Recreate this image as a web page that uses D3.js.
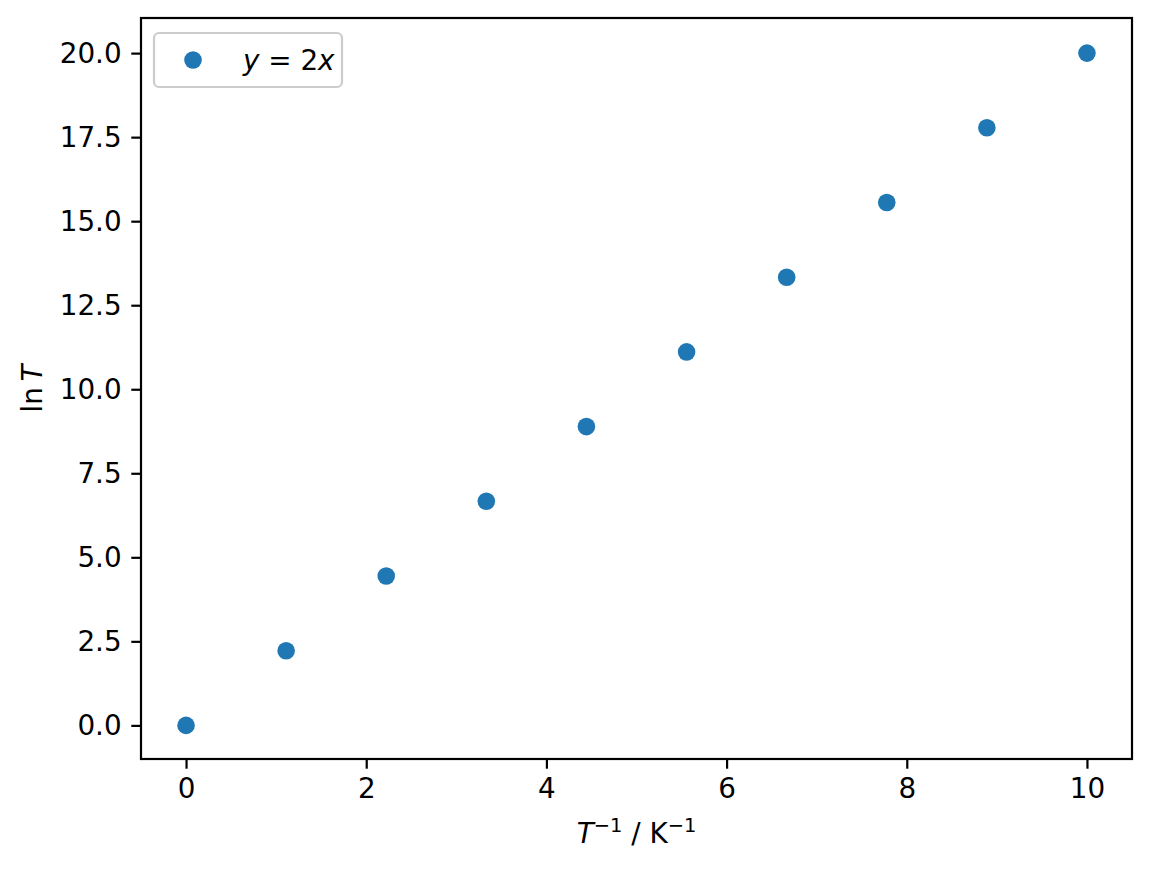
<!DOCTYPE html>
<html>
<head>
<meta charset="utf-8">
<script src="https://cdn.jsdelivr.net/npm/d3@7"></script>
<style>
  body { margin: 0; background: #fff; }
  text { font-family: "DejaVu Sans", sans-serif; }
</style>
</head>
<body>
<div id="chart"></div>
<script>
// data
var xValues = [0, 1.111, 2.222, 3.333, 4.444, 5.556, 6.667, 7.778, 8.889, 10];
var yValues = [0, 2.222, 4.444, 6.667, 8.889, 11.111, 13.333, 15.556, 17.778, 20];
var xTicks = [0, 2, 4, 6, 8, 10];
var yTicks = [0, 2.5, 5, 7.5, 10, 12.5, 15, 17.5, 20];

var W = 1152, H = 869;
var axL = 141, axR = 1132, axT = 18, axB = 759;
var fs = 27.8, tick = 9.7, lw = 2.2;

var svg = d3.select('#chart').append('svg')
  .attr('width', W).attr('height', H);

var x = d3.scaleLinear().domain([-0.5, 10.5]).range([axL, axR]);
var y = d3.scaleLinear().domain([-1, 21]).range([axB, axT + 1.5]);

var xAxis = svg.append('g')
  .attr('transform', 'translate(0,' + axB + ')')
  .call(d3.axisBottom(x).tickValues(xTicks).tickFormat(d3.format('d'))
    .tickSize(tick).tickPadding(tick));
var yAxis = svg.append('g')
  .attr('transform', 'translate(' + axL + ',0)')
  .call(d3.axisLeft(y).tickValues(yTicks).tickFormat(d3.format('.1f'))
    .tickSize(tick).tickPadding(tick));

[xAxis, yAxis].forEach(function(a){
  a.select('.domain').remove();
  a.selectAll('line').attr('stroke', '#000').attr('stroke-width', lw);
  a.selectAll('text').attr('font-size', fs).attr('fill', '#000')
    .attr('font-family', 'DejaVu Sans');
});

// points
svg.append('g').selectAll('circle')
  .data(xValues)
  .enter().append('circle')
  .attr('cx', function(d){ return x(d); })
  .attr('cy', function(d, i){ return y(yValues[i]); })
  .attr('r', 8.8)
  .attr('fill', '#1f77b4');

// frame
svg.append('rect')
  .attr('x', axL).attr('y', axT)
  .attr('width', axR - axL).attr('height', axB - axT)
  .attr('fill', 'none').attr('stroke', '#000').attr('stroke-width', lw);

// x label
var xl = svg.append('text')
  .attr('x', (axL + axR) / 2).attr('y', 843)
  .attr('text-anchor', 'middle').attr('font-size', fs);
xl.append('tspan').attr('font-style', 'italic').text('T');
xl.append('tspan').attr('font-size', fs * 0.7).attr('dy', -11).text('\u22121');
xl.append('tspan').attr('dy', 11).text(' / K');
xl.append('tspan').attr('font-size', fs * 0.7).attr('dy', -11).text('\u22121');

// y label
var yl = svg.append('text')
  .attr('transform', 'translate(42,' + (axT + axB) / 2 + ') rotate(-90)')
  .attr('text-anchor', 'middle').attr('font-size', fs);
yl.append('tspan').text('ln\u2009');
yl.append('tspan').attr('font-style', 'italic').text('T');

// legend
var lg = svg.append('g');
lg.append('rect')
  .attr('x', 154).attr('y', 33).attr('width', 188).attr('height', 54)
  .attr('rx', 5).attr('fill', '#fff').attr('fill-opacity', 0.8)
  .attr('stroke', '#cccccc').attr('stroke-width', 2.2);
lg.append('circle').attr('cx', 193).attr('cy', 60).attr('r', 8.8).attr('fill', '#1f77b4');
var lt = lg.append('text').attr('x', 243).attr('y', 70).attr('font-size', fs);
lt.append('tspan').attr('font-style', 'italic').text('y');
lt.append('tspan').text(' = 2');
lt.append('tspan').attr('font-style', 'italic').text('x');
</script>
</body>
</html>
